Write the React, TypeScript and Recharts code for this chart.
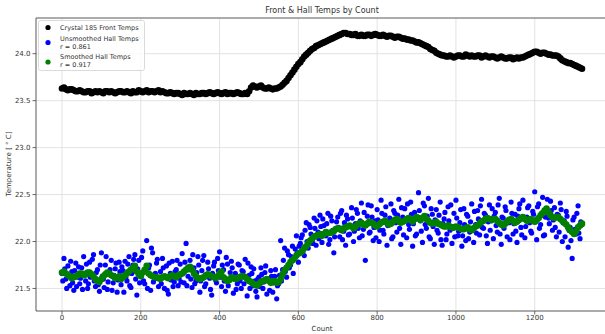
import React from 'react';
import { ScatterChart, Scatter, XAxis, YAxis, CartesianGrid, ReferenceLine } from 'recharts';

const FRONT_STEP = 10;
const HALL_STEP = 5;
const SMOOTH_STEP = 10;
const FRONT_B_START = 5;
const HALL_B_START = 2;
const SMOOTH_B_START = 5;

const xTicks = [0, 200, 400, 600, 800, 1000, 1200];
const yTicks = [21.5, 22.0, 22.5, 23.0, 23.5, 24.0];
const xDomain: [number, number] = [-66, 1386];
const yDomain: [number, number] = [21.26, 24.38];

// Crystal 185 front temps, counts 0,10,20,...
const frontTemps = [
  23.63, 23.62, 23.62, 23.61, 23.60, 23.60, 23.59, 23.60, 23.59, 23.59,
  23.59, 23.60, 23.59, 23.59, 23.59, 23.60, 23.59, 23.59, 23.60, 23.59,
  23.60, 23.60, 23.59, 23.60, 23.60, 23.59, 23.59, 23.58, 23.58, 23.58,
  23.57, 23.58, 23.57, 23.57, 23.58, 23.57, 23.58, 23.58, 23.58, 23.58,
  23.58, 23.58, 23.57, 23.58, 23.58, 23.58, 23.57, 23.57, 23.64, 23.65,
  23.65, 23.64, 23.63, 23.63, 23.63, 23.64, 23.67, 23.71, 23.77, 23.83,
  23.89, 23.94, 23.99, 24.03, 24.06, 24.09, 24.11, 24.13, 24.15, 24.17,
  24.19, 24.21, 24.22, 24.21, 24.20, 24.19, 24.20, 24.19, 24.20, 24.20,
  24.20, 24.19, 24.19, 24.19, 24.18, 24.18, 24.17, 24.16, 24.15, 24.14,
  24.12, 24.11, 24.09, 24.07, 24.04, 24.01, 23.99, 23.98, 23.97, 23.97,
  23.97, 23.98, 23.97, 23.98, 23.98, 23.97, 23.98, 23.97, 23.97, 23.97,
  23.96, 23.96, 23.96, 23.95, 23.96, 23.95, 23.95, 23.96, 23.98, 24.00,
  24.02, 24.01, 24.01, 24.00, 23.99, 23.98, 23.97, 23.93, 23.91, 23.90,
  23.88, 23.86, 23.84,
];

// Crystal 185 front temps, counts 5,15,25,...
const frontTempsB = [
  23.64, 23.61, 23.62, 23.60, 23.61, 23.59, 23.60, 23.58, 23.60, 23.60,
  23.58, 23.60, 23.60, 23.58, 23.60, 23.59, 23.60, 23.58, 23.59, 23.61,
  23.59, 23.61, 23.60, 23.59, 23.61, 23.60, 23.58, 23.59, 23.57, 23.58,
  23.56, 23.57, 23.58, 23.56, 23.57, 23.58, 23.57, 23.59, 23.57, 23.59,
  23.57, 23.59, 23.58, 23.57, 23.59, 23.57, 23.58, 23.60, 23.66, 23.64,
  23.66, 23.63, 23.64, 23.62, 23.63, 23.65, 23.69, 23.74, 23.80, 23.86,
  23.91, 23.97, 24.01, 24.05, 24.08, 24.10, 24.12, 24.14, 24.16, 24.18,
  24.20, 24.22, 24.21, 24.20, 24.21, 24.19, 24.19, 24.20, 24.19, 24.21,
  24.19, 24.20, 24.18, 24.19, 24.17, 24.18, 24.16, 24.15, 24.14, 24.13,
  24.12, 24.10, 24.08, 24.05, 24.03, 24.00, 23.98, 23.97, 23.98, 23.96,
  23.98, 23.97, 23.99, 23.97, 23.97, 23.98, 23.96, 23.98, 23.96, 23.97,
  23.95, 23.97, 23.95, 23.96, 23.94, 23.96, 23.96, 23.97, 23.99, 24.01,
  24.02, 24.00, 24.01, 23.99, 23.98, 23.98, 23.95, 23.92, 23.90, 23.89,
  23.87, 23.85,
];

// Unsmoothed hall temps, counts 0,5,10,...
const hallTemps = [
  21.66, 21.82, 21.60, 21.74, 21.53, 21.68, 21.48, 21.77, 21.62, 21.55,
  21.72, 21.84, 21.58, 21.50, 21.78, 21.63, 21.86, 21.52, 21.70, 21.47,
  21.88, 21.60, 21.75, 21.49, 21.66, 21.80, 21.56, 21.71, 21.46, 21.78,
  21.54, 21.69, 21.79, 21.58, 21.84, 21.51, 21.75, 21.86, 21.43, 21.80,
  21.64, 21.90, 21.55, 22.01, 21.72, 21.48, 21.88, 21.60, 21.77, 21.52,
  21.68, 21.82, 21.50, 21.74, 21.44, 21.66, 21.79, 21.57, 21.70, 21.53,
  21.76, 21.87, 21.56, 21.98, 21.63, 21.80, 21.51, 21.72, 21.58, 21.84,
  21.46, 21.69, 21.85, 21.55, 21.78, 21.61, 21.43, 21.74, 21.59, 21.82,
  21.89, 21.52, 21.70, 21.47, 21.76, 21.60, 21.79, 21.45, 21.66, 21.55,
  21.75, 21.50, 21.68, 21.81, 21.42, 21.64, 21.73, 21.53, 21.58, 21.41,
  21.62, 21.72, 21.50, 21.67, 21.44, 21.58, 21.69, 21.46, 21.63, 21.39,
  21.55, 22.01, 21.70, 21.93, 21.62, 21.86, 21.75, 21.95, 21.82, 22.06,
  21.78, 21.98, 22.07, 21.85, 22.20, 21.93, 22.15, 22.02, 22.25, 21.96,
  22.10, 22.28, 21.99, 22.17, 22.06, 22.30, 22.02, 22.22, 21.88, 22.14,
  22.26, 22.05, 22.33, 22.11, 21.96, 22.24, 22.08, 22.36, 22.00, 22.19,
  22.30, 22.04, 22.41, 22.13, 21.80, 22.27, 22.09, 22.38, 22.01, 22.22,
  22.34, 22.00, 22.44, 22.12, 22.28, 21.96, 22.19, 22.40, 22.05, 22.30,
  22.10, 22.45, 21.97, 22.26, 22.35, 22.04, 22.18, 22.42, 21.95, 22.31,
  22.08, 22.52, 22.22, 21.99, 22.38, 22.14, 22.46, 22.03, 22.29, 21.97,
  22.34, 22.09, 22.42, 21.96, 22.24, 22.02, 22.37, 22.12, 21.98, 22.30,
  22.44, 22.06, 22.20, 21.95, 22.35, 22.01, 22.27, 22.10, 22.40, 21.99,
  22.18, 22.33, 22.07, 22.45, 22.14, 22.28, 21.98, 22.39, 22.22, 22.03,
  22.31, 22.10, 22.46, 21.97, 22.25, 22.37, 22.05, 22.20, 22.42, 22.08,
  22.29, 21.99, 22.35, 22.15, 22.44, 22.04, 22.26, 22.38, 22.11, 22.32,
  22.53, 22.02, 22.40, 22.18, 22.47, 22.07, 22.34, 22.25, 22.43, 22.12,
  22.36, 22.05, 22.28, 22.41, 22.00, 22.22, 22.32, 21.94, 22.15, 21.82,
  22.26, 22.08, 22.38, 22.03, 22.18,
];

// Unsmoothed hall temps, counts 2,7,12,...
const hallTempsB = [
  21.58, 21.71, 21.50, 21.64, 21.79, 21.56, 21.69, 21.52, 21.73, 21.61,
  21.49, 21.66, 21.76, 21.55, 21.62, 21.81, 21.58, 21.67, 21.54, 21.75,
  21.63, 21.51, 21.84, 21.57, 21.70, 21.48, 21.64, 21.77, 21.59, 21.68,
  21.73, 21.46, 21.62, 21.76, 21.53, 21.66, 21.81, 21.60, 21.71, 21.56,
  21.83, 21.58, 21.69, 21.50, 21.75, 21.93, 21.57, 21.66, 21.81, 21.62,
  21.55, 21.72, 21.63, 21.48, 21.77, 21.59, 21.52, 21.68, 21.80, 21.61,
  21.57, 21.66, 21.78, 21.53, 21.70, 21.60, 21.86, 21.55, 21.67, 21.75,
  21.58, 21.80, 21.52, 21.64, 21.71, 21.49, 21.66, 21.78, 21.56, 21.69,
  21.62, 21.75, 21.58, 21.83, 21.53, 21.67, 21.72, 21.61, 21.49, 21.76,
  21.58, 21.69, 21.55, 21.63, 21.77, 21.50, 21.66, 21.71, 21.47, 21.60,
  21.52, 21.65, 21.57, 21.74, 21.60, 21.48, 21.63, 21.56, 21.70, 21.53,
  21.64, 21.58, 21.80, 21.68, 21.90, 21.72, 21.84, 21.66, 21.92, 21.88,
  21.95, 22.04, 21.90, 22.12, 22.00, 22.18, 22.08, 21.98, 22.14, 22.22,
  22.03, 22.16, 22.24, 22.09, 22.19, 21.97, 22.27, 22.12, 22.05, 22.21,
  22.15, 22.30, 22.02, 22.20, 22.28, 22.07, 22.16, 22.25, 22.11, 22.34,
  22.14, 22.22, 22.06, 22.31, 22.18, 22.39, 22.10, 22.26, 22.15, 22.04,
  22.23, 22.12, 22.30, 22.08, 22.37, 22.17, 22.25, 22.03, 22.33, 22.20,
  22.28, 22.14, 22.36, 22.07, 22.22, 22.40, 22.13, 22.29, 22.19, 22.06,
  22.24, 22.33, 22.11, 22.41, 22.18, 22.27, 22.05, 22.35, 22.16, 22.23,
  22.12, 22.28, 22.02, 22.19, 22.31, 22.08, 22.22, 22.39, 22.14, 22.05,
  22.25, 22.11, 22.34, 22.06, 22.18, 22.29, 22.03, 22.21, 22.13, 22.32,
  22.09, 22.24, 22.38, 22.15, 22.30, 22.06, 22.21, 22.12, 22.35, 22.27,
  22.17, 22.39, 22.08, 22.26, 22.14, 22.33, 22.22, 22.02, 22.30, 22.19,
  22.11, 22.27, 22.40, 22.07, 22.24, 22.16, 22.36, 22.20, 22.09, 22.29,
  22.21, 22.37, 22.14, 22.30, 22.06, 22.26, 22.45, 22.19, 22.33, 22.23,
  22.15, 22.29, 22.10, 22.34, 22.20, 22.05, 22.27, 22.12, 22.01, 22.23,
  22.13, 22.30, 22.09, 22.21,
];

// Smoothed hall temps, counts 0,10,20,...
const smoothTemps = [
  21.67, 21.66, 21.63, 21.62, 21.64, 21.66, 21.65, 21.67, 21.63, 21.58,
  21.60, 21.65, 21.66, 21.63, 21.62, 21.60, 21.64, 21.68, 21.72, 21.68,
  21.63, 21.70, 21.66, 21.63, 21.62, 21.60, 21.63, 21.61, 21.64, 21.62,
  21.65, 21.68, 21.72, 21.70, 21.63, 21.60, 21.62, 21.65, 21.63, 21.61,
  21.66, 21.62, 21.58, 21.62, 21.60, 21.62, 21.63, 21.60, 21.57, 21.54,
  21.55, 21.58, 21.60, 21.56, 21.58, 21.57, 21.65, 21.72, 21.78, 21.82,
  21.87, 21.90, 21.95, 22.01, 22.05, 22.07, 22.06, 22.10, 22.09, 22.11,
  22.14, 22.12, 22.15, 22.17, 22.14, 22.18, 22.20, 22.17, 22.21, 22.19,
  22.16, 22.20, 22.22, 22.18, 22.21, 22.24, 22.20, 22.22, 22.25, 22.21,
  22.26, 22.23, 22.27, 22.22, 22.19, 22.21, 22.18, 22.16, 22.17, 22.15,
  22.16, 22.14, 22.13, 22.15, 22.12, 22.16, 22.19, 22.22, 22.25, 22.23,
  22.24, 22.20, 22.17, 22.21, 22.24, 22.20, 22.23, 22.26, 22.22, 22.24,
  22.21, 22.25, 22.30, 22.35, 22.28, 22.25, 22.26, 22.22, 22.18, 22.12,
  22.08, 22.15, 22.19,
];

// Smoothed hall temps, counts 5,15,25,...
const smoothTempsB = [
  21.68, 21.64, 21.61, 21.63, 21.66, 21.64, 21.67, 21.65, 21.60, 21.57,
  21.63, 21.67, 21.64, 21.61, 21.63, 21.62, 21.66, 21.70, 21.74, 21.65,
  21.67, 21.74, 21.64, 21.62, 21.61, 21.62, 21.62, 21.63, 21.63, 21.64,
  21.66, 21.70, 21.73, 21.66, 21.61, 21.61, 21.64, 21.64, 21.62, 21.63,
  21.68, 21.60, 21.59, 21.61, 21.61, 21.63, 21.62, 21.58, 21.55, 21.53,
  21.57, 21.59, 21.58, 21.57, 21.56, 21.60, 21.69, 21.75, 21.80, 21.85,
  21.88, 21.93, 21.98, 22.03, 22.06, 22.08, 22.08, 22.09, 22.10, 22.13,
  22.13, 22.14, 22.16, 22.16, 22.16, 22.19, 22.18, 22.19, 22.20, 22.17,
  22.18, 22.21, 22.20, 22.19, 22.23, 22.22, 22.21, 22.24, 22.23, 22.24,
  22.25, 22.25, 22.24, 22.20, 22.20, 22.19, 22.17, 22.16, 22.16, 22.15,
  22.15, 22.13, 22.14, 22.13, 22.14, 22.17, 22.21, 22.24, 22.24, 22.24,
  22.22, 22.18, 22.19, 22.23, 22.22, 22.21, 22.25, 22.24, 22.23, 22.22,
  22.23, 22.28, 22.33, 22.31, 22.26, 22.26, 22.24, 22.20, 22.15, 22.10,
  22.11, 22.17,
];

const frontData = [
  ...frontTemps.map((y, i) => ({ x: i * FRONT_STEP, y })),
  ...frontTempsB.map((y, i) => ({ x: FRONT_B_START + i * FRONT_STEP, y })),
];
const hallData = [
  ...hallTemps.map((y, i) => ({ x: i * HALL_STEP, y })),
  ...hallTempsB.map((y, i) => ({ x: HALL_B_START + i * HALL_STEP, y })),
];
const smoothData = [
  ...smoothTemps.map((y, i) => ({ x: i * SMOOTH_STEP, y })),
  ...smoothTempsB.map((y, i) => ({ x: SMOOTH_B_START + i * SMOOTH_STEP, y })),
];

const FONT = "'DejaVu Sans', sans-serif";
const tickStyle = { fontSize: 7, fill: '#333', fontFamily: FONT };

const dot = (color: string, r: number) => (p: any) => (
  <circle cx={p.cx} cy={p.cy} r={r} fill={color} />
);

export default function App() {
  return (
    <div style={{ position: 'absolute', left: 0, top: 0, width: 605, height: 334, overflow: 'hidden', background: '#fff', fontFamily: FONT }}>
      <ScatterChart width={612} height={334} margin={{ top: 18, right: 4, bottom: 9, left: 0 }}>
        <CartesianGrid stroke="#dcdcdc" strokeWidth={0.8} horizontal vertical />
        <XAxis
          dataKey="x"
          type="number"
          domain={xDomain}
          ticks={xTicks}
          allowDataOverflow
          height={14}
          tick={tickStyle}
          tickSize={3.5}
          tickMargin={1}
          axisLine={{ stroke: '#444', strokeWidth: 0.8 }}
          tickLine={{ stroke: '#444', strokeWidth: 0.8 }}
        />
        <YAxis
          dataKey="y"
          type="number"
          domain={yDomain}
          ticks={yTicks}
          allowDataOverflow
          width={36}
          tick={tickStyle}
          tickSize={3.5}
          tickMargin={2}
          tickFormatter={(v: number) => v.toFixed(1)}
          axisLine={{ stroke: '#444', strokeWidth: 0.8 }}
          tickLine={{ stroke: '#444', strokeWidth: 0.8 }}
        />
        <ReferenceLine y={yDomain[1]} stroke="#444" strokeWidth={0.8} />
        <Scatter name="Crystal 185 Front Temps" data={frontData} fill="#000" shape={dot('#000', 3.3)} isAnimationActive={false} />
        <Scatter name="Unsmoothed Hall Temps" data={hallData} fill="#0000ff" shape={dot('#0000ff', 2.6)} isAnimationActive={false} />
        <Scatter name="Smoothed Hall Temps" data={smoothData} fill="#008000" shape={dot('#008000', 3.3)} isAnimationActive={false} />
      </ScatterChart>
      <svg width={605} height={334} style={{ position: 'absolute', left: 0, top: 0, pointerEvents: 'none' }}>
        <text x={322} y={13} textAnchor="middle" fontSize={8} fill="#333" fontFamily={FONT}>Front &amp; Hall Temps by Count</text>
        <text x={322} y={331} textAnchor="middle" fontSize={7} fill="#333" fontFamily={FONT}>Count</text>
        <text x={11} y={164} textAnchor="middle" fontSize={7} fill="#333" fontFamily={FONT} transform="rotate(-90 11 164)">Temperature [ ° C]</text>
        <rect x={38.5} y={20.5} width={106} height={50} rx={2} fill="#fff" fillOpacity={0.8} stroke="#d0d0d0" strokeWidth={0.8} />
        <circle cx={48} cy={27.5} r={2.6} fill="#000" />
        <circle cx={48} cy={42.5} r={2.6} fill="#0000ff" />
        <circle cx={48} cy={62} r={2.6} fill="#008000" />
        <g fontSize={6.5} fill="#333" fontFamily={FONT}>
          <text x={60} y={30}>Crystal 185 Front Temps</text>
          <text x={60} y={40.5}>Unsmoothed Hall Temps</text>
          <text x={60} y={48.5}>r = 0.861</text>
          <text x={60} y={59}>Smoothed Hall Temps</text>
          <text x={60} y={67}>r = 0.917</text>
        </g>
      </svg>
    </div>
  );
}
